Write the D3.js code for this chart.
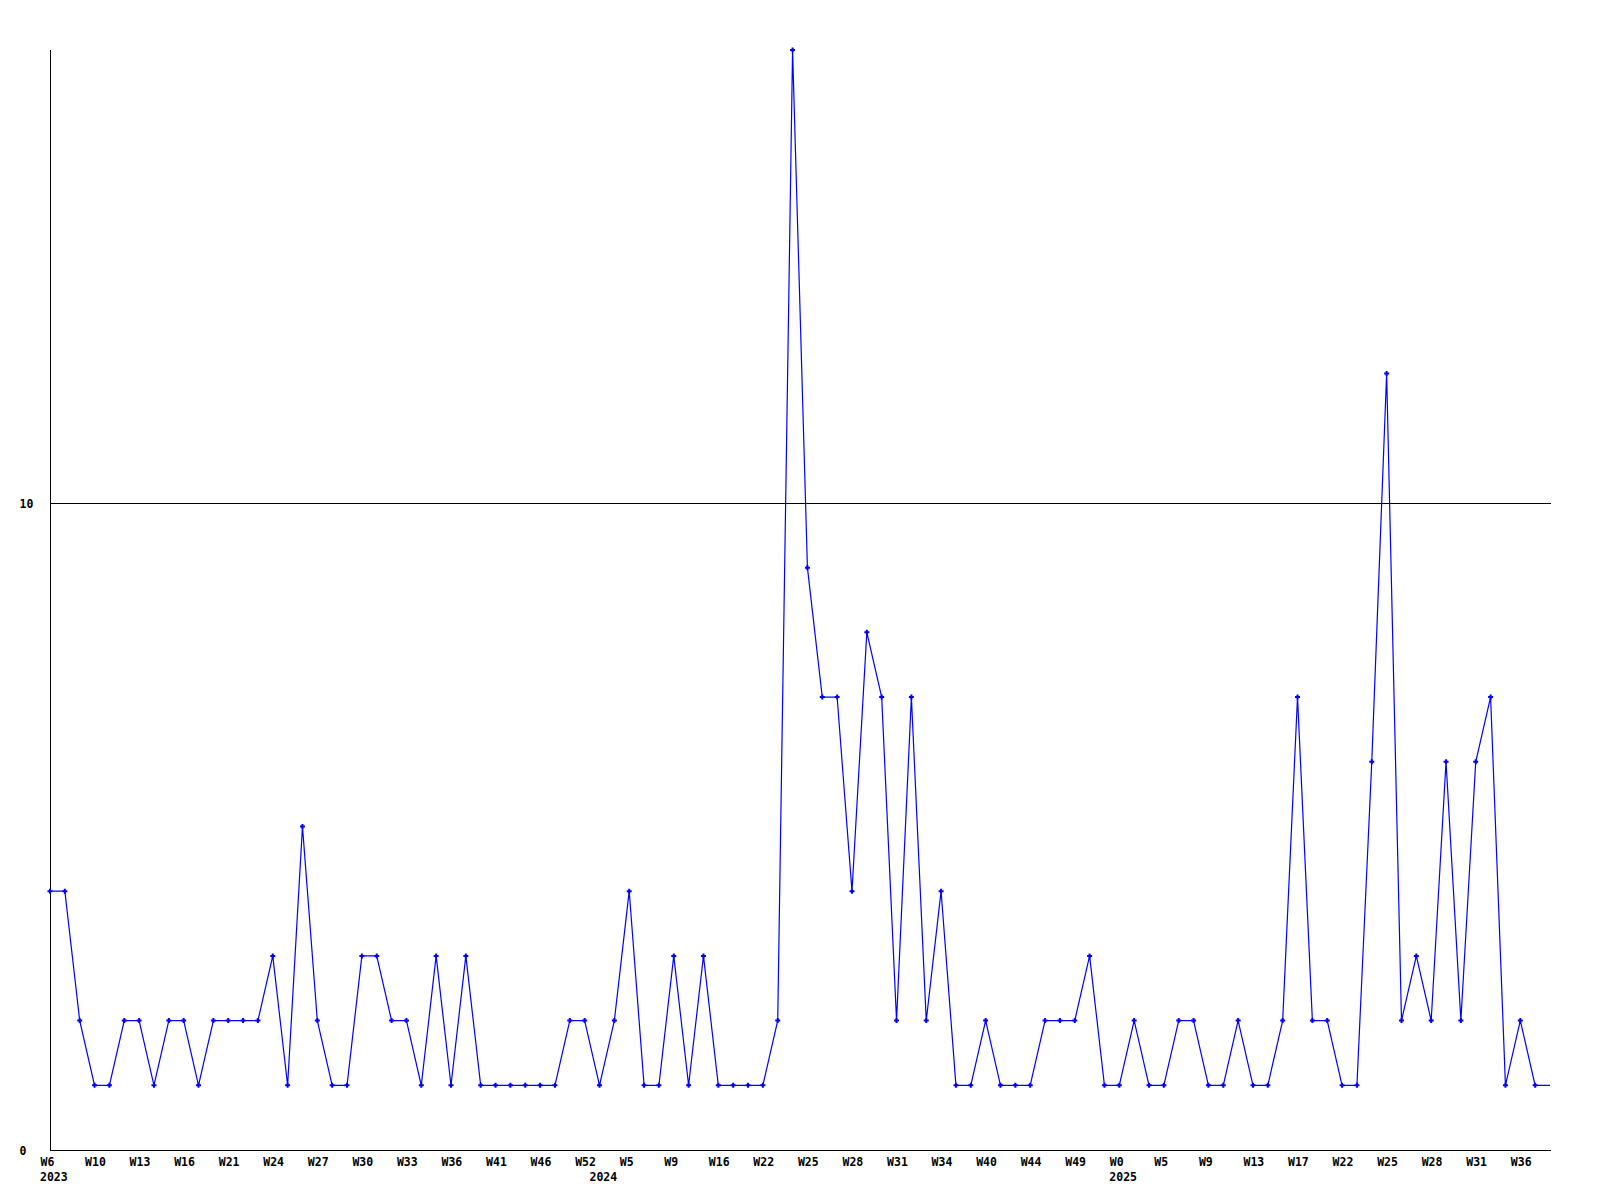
<!DOCTYPE html>
<html>
<head>
<meta charset="utf-8">
<script src="https://cdn.jsdelivr.net/npm/d3@7"></script>
<style>
  html, body { margin: 0; padding: 0; background: #fff; }
  svg text { font-family: "DejaVu Sans Mono", monospace; font-weight: bold; font-size: 11.5px; fill: #000; }
</style>
</head>
<body>
<div id="chart"></div>
<script>
// weekly counts, one per point
const values = [
  4, 4, 2, 1, 1, 2, 2, 1, 2, 2,
  1, 2, 2, 2, 2, 3, 1, 5, 2, 1,
  1, 3, 3, 2, 2, 1, 3, 1, 3, 1,
  1, 1, 1, 1, 1, 2, 2, 1, 2, 4,
  1, 1, 3, 1, 3, 1, 1, 1, 1, 2,
  17, 9, 7, 7, 4, 8, 7, 2, 7, 2,
  4, 1, 1, 2, 1, 1, 1, 2, 2, 2,
  3, 1, 1, 2, 1, 1, 2, 2, 1, 1,
  2, 1, 1, 2, 7, 2, 2, 1, 1, 6,
  12, 2, 3, 2, 6, 2, 6, 7, 1, 2,
  1, 1
];
const weekLabels = ["W6", "W10", "W13", "W16", "W21", "W24", "W27", "W30", "W33", "W36",
  "W41", "W46", "W52", "W5", "W9", "W16", "W22", "W25", "W28", "W31", "W34", "W40",
  "W44", "W49", "W0", "W5", "W9", "W13", "W17", "W22", "W25", "W28", "W31", "W36"];
const labelStep = 3;
const yearLabels = ["2023", "2024", "2025"];
const yearIndex = [0, 37, 72];
const yTicks = [0, 10];
const yMax = 17;

let width = 1600, height = 1200;
let margin = {top: 50, right: 50, bottom: 50, left: 50};

let svg = d3.select("#chart").append("svg")
  .attr("width", width)
  .attr("height", height);

let x = d3.scaleLinear()
  .domain([0, values.length - 1])
  .range([margin.left, width - margin.right]);
let y = d3.scaleLinear()
  .domain([0, yMax])
  .range([height - margin.bottom, margin.top]);

// grid line at 10
svg.append("g")
  .selectAll("line")
  .data(yTicks.filter(d => d > 0))
  .enter().append("line")
  .attr("x1", x(0)).attr("x2", x(values.length - 1) + 1)
  .attr("y1", d => Math.round(y(d)) + 0.5).attr("y2", d => Math.round(y(d)) + 0.5)
  .attr("stroke", "#000")
  .attr("shape-rendering", "crispEdges");

// axes
const yAxis = svg.append("g")
  .attr("transform", "translate(" + margin.left + ",0)")
  .call(d3.axisLeft(y).tickValues(yTicks).tickSize(0).tickFormat(d3.format("d")));
yAxis.select(".domain").remove();
yAxis.selectAll("text")
  .attr("text-anchor", "start")
  .attr("x", 19.5 - margin.left)
  .attr("dy", "0.4em");

svg.append("line")
  .attr("x1", margin.left + 0.5).attr("x2", margin.left + 0.5)
  .attr("y1", y(yMax)).attr("y2", y(0) + 1)
  .attr("stroke", "#000").attr("shape-rendering", "crispEdges");
svg.append("line")
  .attr("x1", margin.left).attr("x2", x(values.length - 1) + 1)
  .attr("y1", y(0) + 0.5).attr("y2", y(0) + 0.5)
  .attr("stroke", "#000").attr("shape-rendering", "crispEdges");

const xAxis = svg.append("g")
  .attr("transform", "translate(0," + y(0) + ")")
  .call(d3.axisBottom(x)
    .tickValues(weekLabels.map((d, i) => i * labelStep))
    .tickSize(0)
    .tickFormat((d, i) => weekLabels[i]));
xAxis.select(".domain").remove();
xAxis.selectAll("text")
  .attr("text-anchor", "start")
  .attr("x", -10)
  .attr("y", 16)
  .attr("dy", 0);

svg.append("g")
  .selectAll("text")
  .data(yearLabels)
  .enter().append("text")
  .attr("x", (d, i) => x(yearIndex[i]) - 10)
  .attr("y", y(0) + 31)
  .text(d => d);

// series line
let line = d3.line()
  .x((d, i) => x(i))
  .y(d => y(d));

svg.append("path")
  .datum(values)
  .attr("d", line)
  .attr("fill", "none")
  .attr("stroke", "#0000ff")
  .attr("stroke-width", 1.2);

// point markers (last point sits on the right edge, no marker)
const marker = "M-2.5,-1h1.5v-1.5h2v1.5h1.5v2h-1.5v1.5h-2v-1.5h-1.5z";
svg.append("g")
  .selectAll("path")
  .data(values.slice(0, values.length - 1))
  .enter().append("path")
  .attr("d", marker)
  .attr("transform", (d, i) => "translate(" + x(i) + "," + y(d) + ")")
  .attr("fill", "#0000ff");
</script>
</body>
</html>
